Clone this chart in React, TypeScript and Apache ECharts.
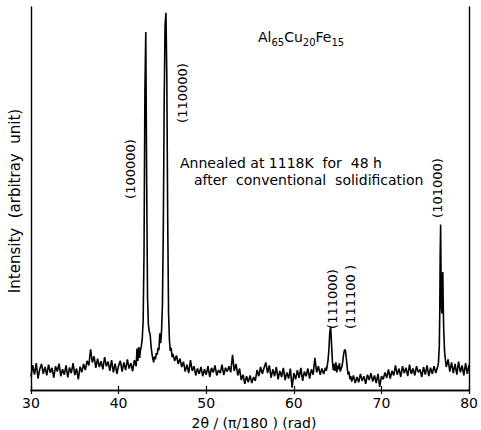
import React, { useEffect, useRef } from "react";
import * as echarts from "echarts";

// 2θ (deg) vs intensity (arbitrary units, 0–100 scale of plot height)
const scan30to42: [number, number][] = [
  [30.0, 3.5], [30.2, 6.5], [30.4, 4.0], [30.6, 7.0], [30.8, 3.0], [31.0, 5.5], [31.2, 6.8], [31.4, 4.2],
  [31.6, 6.0], [31.8, 3.8], [32.0, 6.6], [32.2, 4.5], [32.4, 5.8], [32.6, 3.2], [32.8, 6.2], [33.0, 4.8],
  [33.2, 6.9], [33.4, 3.6], [33.6, 5.4], [33.8, 4.0], [34.0, 6.4], [34.2, 3.3], [34.4, 5.9], [34.6, 4.4],
  [34.8, 7.0], [35.0, 3.9], [35.2, 5.6], [35.4, 2.8], [35.6, 6.1], [35.8, 4.6], [36.0, 6.8], [36.2, 5.2],
  [36.4, 7.6], [36.6, 6.4], [36.8, 10.6], [37.0, 7.2], [37.2, 8.8], [37.4, 5.8], [37.6, 8.2], [37.8, 6.0],
  [38.0, 7.5], [38.2, 5.4], [38.4, 8.6], [38.6, 6.2], [38.8, 7.4], [39.0, 5.0], [39.2, 7.8], [39.4, 4.6],
  [39.6, 6.9], [39.8, 4.2], [40.0, 6.4], [40.2, 7.6], [40.4, 4.8], [40.6, 7.2], [40.8, 5.2], [41.0, 8.0],
  [41.2, 5.6], [41.4, 7.0], [41.6, 4.9], [41.8, 7.8], [42.0, 6.2],
];

const peaks42to46: [number, number][] = [
  [42.1, 10.8], [42.2, 7.6], [42.3, 11.2], [42.4, 8.4], [42.5, 10.5], [42.6, 11.5], [42.7, 13.5], [42.8, 18],
  [42.9, 36], [43.0, 78], [43.1, 93.5], [43.2, 55], [43.3, 24], [43.4, 17], [43.5, 15.2], [43.6, 14.5],
  [43.7, 11.5], [43.8, 9.5], [43.9, 8.2], [44.0, 7.2], [44.1, 8.8], [44.2, 8.0], [44.3, 9.6], [44.4, 9.2],
  [44.5, 11.0], [44.6, 10.4], [44.7, 14.8], [44.8, 12.2], [44.9, 15.5], [45.0, 22], [45.1, 42], [45.2, 75],
  [45.3, 95], [45.4, 98.5], [45.5, 82], [45.6, 45], [45.7, 20], [45.8, 13], [45.9, 10.2], [46.0, 11.0],
  [46.1, 8.6], [46.2, 9.4],
];

const scan46to64: [number, number][] = [
  [46.4, 7.6], [46.6, 9.0], [46.8, 6.8], [47.0, 8.2], [47.2, 6.0], [47.4, 7.4], [47.6, 4.8], [47.8, 6.6],
  [48.0, 4.4], [48.2, 7.8], [48.4, 5.0], [48.6, 6.2], [48.8, 3.8], [49.0, 5.6], [49.2, 4.2], [49.4, 6.0],
  [49.6, 3.6], [49.8, 5.4], [50.0, 4.0], [50.2, 6.2], [50.4, 3.4], [50.6, 5.8], [50.8, 4.6], [51.0, 6.4],
  [51.2, 3.8], [51.4, 5.2], [51.6, 4.4], [51.8, 6.6], [52.0, 3.9], [52.2, 5.8], [52.4, 4.8], [52.6, 6.2],
  [52.8, 4.6], [53.0, 9.2], [53.2, 5.0], [53.4, 6.8], [53.6, 3.8], [53.8, 5.6], [54.0, 2.6], [54.2, 4.0],
  [54.4, 1.6], [54.6, 3.6], [54.8, 2.0], [55.0, 3.8], [55.2, 1.8], [55.4, 3.4], [55.6, 2.4], [55.8, 5.2],
  [56.0, 3.6], [56.2, 6.0], [56.4, 4.2], [56.6, 5.8], [56.8, 7.2], [57.0, 4.4], [57.2, 6.4], [57.4, 3.2],
  [57.6, 5.4], [57.8, 3.6], [58.0, 6.0], [58.2, 2.8], [58.4, 5.0], [58.6, 3.4], [58.8, 5.8], [59.0, 2.6],
  [59.2, 4.6], [59.4, 3.0], [59.6, 5.6], [59.8, 0.6], [60.0, 4.4], [60.2, 2.8], [60.4, 5.2], [60.6, 3.2],
  [60.8, 5.8], [61.0, 2.4], [61.2, 4.8], [61.4, 3.6], [61.6, 5.6], [61.8, 3.0], [62.0, 5.4], [62.2, 4.0],
  [62.4, 8.4], [62.6, 4.6], [62.8, 6.2], [63.0, 4.0], [63.2, 5.6], [63.4, 4.2], [63.6, 5.8],
];

const peaks64to66: [number, number][] = [
  [63.7, 5.0], [63.8, 6.2], [63.9, 7.8], [64.0, 10.5], [64.1, 15.0], [64.2, 16.5], [64.3, 12.0], [64.4, 7.5],
  [64.5, 5.2], [64.6, 6.8], [64.7, 5.0], [64.8, 7.2], [64.9, 4.6], [65.0, 6.4], [65.1, 5.4], [65.2, 7.0],
  [65.3, 4.8], [65.4, 5.6], [65.5, 6.2], [65.6, 7.8], [65.7, 9.6], [65.8, 10.6], [65.9, 10.2], [66.0, 8.0],
  [66.1, 5.6], [66.2, 4.0], [66.3, 4.8], [66.4, 2.8], [66.5, 3.6], [66.6, 2.2],
];

const scan67to76: [number, number][] = [
  [66.8, 3.8], [67.0, 1.8], [67.2, 3.4], [67.4, 2.0], [67.6, 4.2], [67.8, 2.4], [68.0, 3.6], [68.2, 1.6],
  [68.4, 4.0], [68.6, 2.6], [68.8, 4.4], [69.0, 2.2], [69.2, 3.8], [69.4, 1.8], [69.6, 4.2], [69.8, 0.8],
  [70.0, 3.6], [70.2, 2.8], [70.4, 4.6], [70.6, 3.2], [70.8, 5.4], [71.0, 3.0], [71.2, 5.0], [71.4, 3.8],
  [71.6, 6.4], [71.8, 4.0], [72.0, 5.6], [72.2, 3.4], [72.4, 6.2], [72.6, 4.4], [72.8, 5.8], [73.0, 3.6],
  [73.2, 6.6], [73.4, 4.2], [73.6, 5.6], [73.8, 3.8], [74.0, 6.2], [74.2, 4.6], [74.4, 5.4], [74.6, 3.4],
  [74.8, 6.0], [75.0, 4.0], [75.2, 6.4], [75.4, 3.6], [75.6, 5.8], [75.8, 4.2], [76.0, 6.2], [76.2, 4.4],
  [76.4, 6.0],
];

const peak77: [number, number][] = [
  [76.5, 7.0], [76.6, 11.5], [76.65, 20], [76.7, 35], [76.75, 43.2], [76.8, 30], [76.85, 21], [76.9, 20],
  [76.95, 26], [77.0, 30.8], [77.05, 22], [77.1, 16], [77.2, 10], [77.3, 7.8], [77.4, 6.0],
];

const scan78to80: [number, number][] = [
  [77.6, 8.0], [77.8, 4.8], [78.0, 7.2], [78.2, 4.4], [78.4, 6.8], [78.6, 4.0], [78.8, 7.4], [79.0, 4.6],
  [79.2, 6.4], [79.4, 3.8], [79.6, 7.0], [79.8, 4.2], [80.0, 6.6],
];

const xTicks = [30, 40, 50, 60, 70, 80];

const peakLabels = [
  { text: "(100000)", x: 130, y: 169 },
  { text: "(110000)", x: 182, y: 93 },
  { text: "(111000)", x: 332, y: 299 },
  { text: "(111100 )", x: 350, y: 297 },
  { text: "(101000)", x: 437, y: 188 },
];

const FONT = "DejaVu Sans";

export default function App() {
  const ref = useRef<HTMLDivElement>(null);
  useEffect(() => {
    if (!ref.current) return;
    const chart = echarts.init(ref.current, null, { renderer: "svg" });
    const data = [
      ...scan30to42, ...peaks42to46, ...scan46to64, ...peaks64to66,
      ...scan67to76, ...peak77, ...scan78to80,
    ];
    const axisCommon = {
      type: "value" as const,
      min: xTicks[0],
      max: xTicks[xTicks.length - 1],
      interval: 10,
      axisLine: { show: true, lineStyle: { color: "#000", width: 1.4 } },
      axisTick: { show: true, inside: true, length: 4, lineStyle: { color: "#000", width: 1.2 } },
      splitLine: { show: false },
    };
    chart.setOption({
      animation: false,
      backgroundColor: "#fff",
      grid: { left: 31, right: 9, top: 7, bottom: 40, containLabel: false },
      xAxis: [
        {
          ...axisCommon,
          position: "bottom",
          axisLabel: { color: "#000", fontSize: 14, fontFamily: FONT, margin: 6 },
        },
        {
          ...axisCommon,
          position: "top",
          axisLabel: { show: false },
        },
      ],
      yAxis: [
        {
          type: "value", min: 0, max: 100, position: "left",
          axisLine: { show: true, lineStyle: { color: "#000", width: 1.4 } },
          axisTick: { show: false }, axisLabel: { show: false }, splitLine: { show: false },
        },
        {
          type: "value", min: 0, max: 100, position: "right",
          axisLine: { show: true, lineStyle: { color: "#000", width: 1.4 } },
          axisTick: { show: false }, axisLabel: { show: false }, splitLine: { show: false },
        },
      ],
      series: [
        {
          type: "line",
          data,
          showSymbol: false,
          smooth: false,
          lineStyle: { color: "#000", width: 1.6 },
          silent: true,
        },
      ],
      graphic: [
        {
          type: "text", x: 15, y: 201, rotation: Math.PI / 2,
          style: { text: "Intensity  (arbitray  unit)", fill: "#000", fontSize: 15, fontFamily: FONT, align: "center", verticalAlign: "middle" },
        },
        {
          type: "text", x: 254, y: 423,
          style: { text: "2θ / (π/180 ) (rad)", fill: "#000", fontSize: 14, fontFamily: FONT, align: "center", verticalAlign: "middle" },
        },
        {
          type: "text", x: 258, y: 27,
          style: {
            text: "Al{s|65}Cu{s|20}Fe{s|15}",
            fill: "#000", fontSize: 14, fontFamily: FONT, lineHeight: 20, align: "left", verticalAlign: "top",
            rich: { s: { fontSize: 10, fontFamily: FONT, lineHeight: 8, verticalAlign: "bottom", fill: "#000" } },
          },
        },
        {
          type: "text", x: 180, y: 163,
          style: { text: "Annealed at 1118K  for  48 h", fill: "#000", fontSize: 14, fontFamily: FONT, align: "left", verticalAlign: "middle" },
        },
        {
          type: "text", x: 194, y: 180,
          style: { text: "after  conventional  solidification", fill: "#000", fontSize: 14, fontFamily: FONT, align: "left", verticalAlign: "middle" },
        },
        ...peakLabels.map((p) => ({
          type: "text", x: p.x, y: p.y, rotation: Math.PI / 2,
          style: { text: p.text, fill: "#000", fontSize: 13, fontFamily: FONT, align: "center", verticalAlign: "middle" },
        })),
      ],
    });
    return () => chart.dispose();
  }, []);
  return <div ref={ref} style={{ width: 481, height: 430, position: "absolute", left: 0, top: 0 }} />;
}
